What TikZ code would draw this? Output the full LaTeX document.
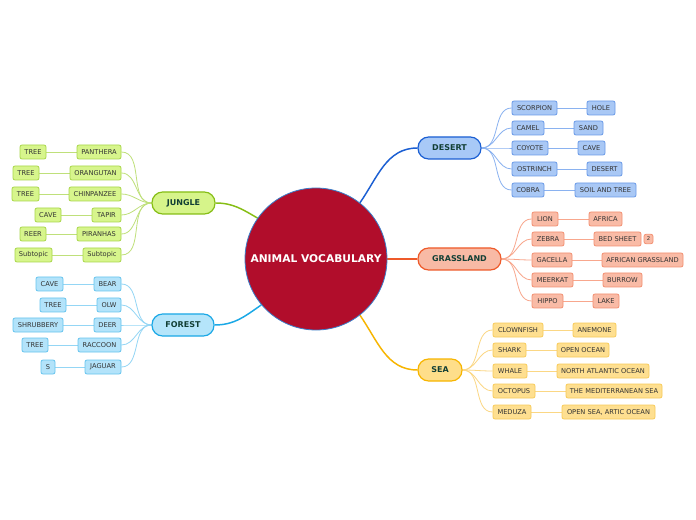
\documentclass[tikz,border=0pt]{standalone}
\usepackage{fontspec}
\setmainfont{DejaVu Sans}
\usetikzlibrary{backgrounds}
\definecolor{rootc}{HTML}{B10D2B}
\definecolor{rootb}{HTML}{3A7DC9}
\definecolor{titlec}{HTML}{123F35}
\definecolor{textc}{HTML}{333333}
\definecolor{dmf}{HTML}{A8C9F7}\definecolor{dmb}{HTML}{1B5FD3}\definecolor{dsf}{HTML}{A9C8F5}\definecolor{dsb}{HTML}{6A9AE8}\definecolor{dl}{HTML}{8AB2F0}
\definecolor{gmf}{HTML}{F8BAA5}\definecolor{gmb}{HTML}{EE5A2A}\definecolor{gsf}{HTML}{F9BBA6}\definecolor{gsb}{HTML}{F39072}\definecolor{gl}{HTML}{F8A78D}
\definecolor{smf}{HTML}{FEDE8A}\definecolor{smb}{HTML}{F7B500}\definecolor{ssf}{HTML}{FEDF90}\definecolor{ssb}{HTML}{F8CB5A}\definecolor{sl}{HTML}{FBD784}
\definecolor{jmf}{HTML}{D6F48A}\definecolor{jmb}{HTML}{86BE15}\definecolor{jsf}{HTML}{D7F58C}\definecolor{jsb}{HTML}{A9D64A}\definecolor{jl}{HTML}{BFE07A}
\definecolor{fmf}{HTML}{B5E5FA}\definecolor{fmb}{HTML}{1AA8E6}\definecolor{fsf}{HTML}{B3E3FA}\definecolor{fsb}{HTML}{66C4EE}\definecolor{fl}{HTML}{94D6F5}
\newcommand\leaf[6]{\node[#1, minimum width={(#4-#3)*0.75pt}] (#2) at ({(#3+#4)/2},#5) {#6};}
\begin{document}
\begin{tikzpicture}[x=0.75pt,y=-0.75pt,
  sub/.style={draw, rounded corners=1.5pt, minimum height=10.5pt, inner sep=0pt, font=\fontsize{5}{6}\selectfont, text=textc, line width=0.6pt},
  mainn/.style={draw, rounded corners=8pt, minimum height=16.5pt, inner sep=0pt, font=\fontsize{6}{7}\selectfont\bfseries, text=titlec, line width=0.9pt},
  dsub/.style={sub, fill=dsf, draw=dsb}, gsub/.style={sub, fill=gsf, draw=gsb},
  ssub/.style={sub, fill=ssf, draw=ssb}, jsub/.style={sub, fill=jsf, draw=jsb},
  fsub/.style={sub, fill=fsf, draw=fsb},
  dmain/.style={mainn, fill=dmf, draw=dmb}, gmain/.style={mainn, fill=gmf, draw=gmb},
  smain/.style={mainn, fill=smf, draw=smb}, jmain/.style={mainn, fill=jmf, draw=jmb},
  fmain/.style={mainn, fill=fmf, draw=fmb},
  rootline/.style={line width=1.1pt},
  subline/.style={line width=0.6pt}]
\useasboundingbox (0,0) rectangle (696,520);
% root
\node[circle, fill=rootc, draw=rootb, line width=0.6pt, minimum size={142*0.75pt}, inner sep=0pt, text=white, font=\fontsize{8}{9}\selectfont\bfseries] (root) at (316,259) {ANIMAL VOCABULARY};
% main topics
\leaf{dmain}{desert}{418}{481}{148}{DESERT}
\leaf{gmain}{grass}{418}{501}{259}{GRASSLAND}
\leaf{smain}{sea}{418}{462}{370}{SEA}
\leaf{jmain}{jungle}{152}{215}{203}{JUNGLE}
\leaf{fmain}{forest}{152}{214}{325}{FOREST}
% desert
\leaf{dsub}{d1}{512}{557}{108}{SCORPION}\leaf{dsub}{d1b}{587}{615}{108}{HOLE}
\leaf{dsub}{d2}{512}{544}{128}{CAMEL}\leaf{dsub}{d2b}{574}{603}{128}{SAND}
\leaf{dsub}{d3}{512}{548}{148}{COYOTE}\leaf{dsub}{d3b}{578}{605}{148}{CAVE}
\leaf{dsub}{d4}{512}{557}{169}{OSTRINCH}\leaf{dsub}{d4b}{587}{622}{169}{DESERT}
\leaf{dsub}{d5}{512}{544}{190}{COBRA}\leaf{dsub}{d5b}{575}{636}{190}{SOIL AND TREE}
% grassland
\leaf{gsub}{g1}{532}{558}{219}{LION}\leaf{gsub}{g1b}{589}{622}{219}{AFRICA}
\leaf{gsub}{g2}{532}{564}{239}{ZEBRA}\leaf{gsub}{g2b}{594}{641}{239}{BED SHEET}
\node[gsub, minimum width={9*0.75pt}, minimum height=7pt, font=\fontsize{4}{5}\selectfont] (badge) at (648.5,239) {2};
\leaf{gsub}{g3}{532}{572}{260}{GACELLA}\leaf{gsub}{g3b}{602}{683}{260}{AFRICAN GRASSLAND}
\leaf{gsub}{g4}{532}{573}{280}{MEERKAT}\leaf{gsub}{g4b}{603}{642}{280}{BURROW}
\leaf{gsub}{g5}{532}{563}{301}{HIPPO}\leaf{gsub}{g5b}{593}{619}{301}{LAKE}
% sea
\leaf{ssub}{s1}{493}{543}{330}{CLOWNFISH}\leaf{ssub}{s1b}{573}{616}{330}{ANEMONE}
\leaf{ssub}{s2}{493}{526}{350}{SHARK}\leaf{ssub}{s2b}{557}{609}{350}{OPEN OCEAN}
\leaf{ssub}{s3}{493}{527}{371}{WHALE}\leaf{ssub}{s3b}{557}{649}{371}{NORTH ATLANTIC OCEAN}
\leaf{ssub}{s4}{493}{535}{391}{OCTOPUS}\leaf{ssub}{s4b}{566}{662}{391}{THE MEDITERRANEAN SEA}
\leaf{ssub}{s5}{493}{531}{412}{MEDUZA}\leaf{ssub}{s5b}{562}{655}{412}{OPEN SEA, ARTIC OCEAN}
% jungle
\leaf{jsub}{j1}{77}{121}{152}{PANTHERA}\leaf{jsub}{j1b}{20}{46}{152}{TREE}
\leaf{jsub}{j2}{70}{121}{173}{ORANGUTAN}\leaf{jsub}{j2b}{13}{39}{173}{TREE}
\leaf{jsub}{j3}{69}{121}{194}{CHINPANZEE}\leaf{jsub}{j3b}{12}{39}{194}{TREE}
\leaf{jsub}{j4}{92}{121}{215}{TAPIR}\leaf{jsub}{j4b}{35}{61}{215}{CAVE}
\leaf{jsub}{j5}{77}{121}{234}{PIRANHAS}\leaf{jsub}{j5b}{20}{46}{234}{REER}
\leaf{jsub}{j6}{83}{121}{255}{Subtopic}\leaf{jsub}{j6b}{15}{52}{255}{Subtopic}
% forest
\leaf{fsub}{f1}{94}{121}{284}{BEAR}\leaf{fsub}{f1b}{36}{63}{284}{CAVE}
\leaf{fsub}{f2}{97}{121}{305}{OLW}\leaf{fsub}{f2b}{40}{66}{305}{TREE}
\leaf{fsub}{f3}{94}{121}{325}{DEER}\leaf{fsub}{f3b}{13}{63}{325}{SHRUBBERY}
\leaf{fsub}{f4}{78}{121}{345}{RACCOON}\leaf{fsub}{f4b}{22}{48}{345}{TREE}
\leaf{fsub}{f5}{85}{121}{367}{JAGUAR}\leaf{fsub}{f5b}{41}{55}{367}{S}
\begin{scope}[on background layer]
\fill[white] (0,0) rectangle (696,520);
\draw[rootline, draw=dmb] (root.52) to[out=55,in=180] (desert.west);
\draw[rootline, draw=gmb] (root.east) -- (grass.west);
\draw[rootline, draw=smb] (root.-52) to[out=-55,in=180] (sea.west);
\draw[rootline, draw=jmb] (root.145) to[out=150,in=0] (jungle.east);
\draw[rootline, draw=fmb] (root.-140) to[out=-145,in=0] (forest.east);
\foreach \i in {1,...,5}{
  \draw[subline, draw=dl] (desert.east) to[out=0,in=180] (d\i.west);
  \draw[subline, draw=dl] (d\i.east) -- (d\i b.west);
  \draw[subline, draw=gl] (grass.east) to[out=0,in=180] (g\i.west);
  \draw[subline, draw=gl] (g\i.east) -- (g\i b.west);
  \draw[subline, draw=sl] (sea.east) to[out=0,in=180] (s\i.west);
  \draw[subline, draw=sl] (s\i.east) -- (s\i b.west);
  \draw[subline, draw=fl] (forest.west) to[out=180,in=0] (f\i.east);
  \draw[subline, draw=fl] (f\i.west) -- (f\i b.east);
}
\foreach \i in {1,...,6}{
  \draw[subline, draw=jl] (jungle.west) to[out=180,in=0] (j\i.east);
  \draw[subline, draw=jl] (j\i.west) -- (j\i b.east);
}
\end{scope}
\end{tikzpicture}
\end{document}
